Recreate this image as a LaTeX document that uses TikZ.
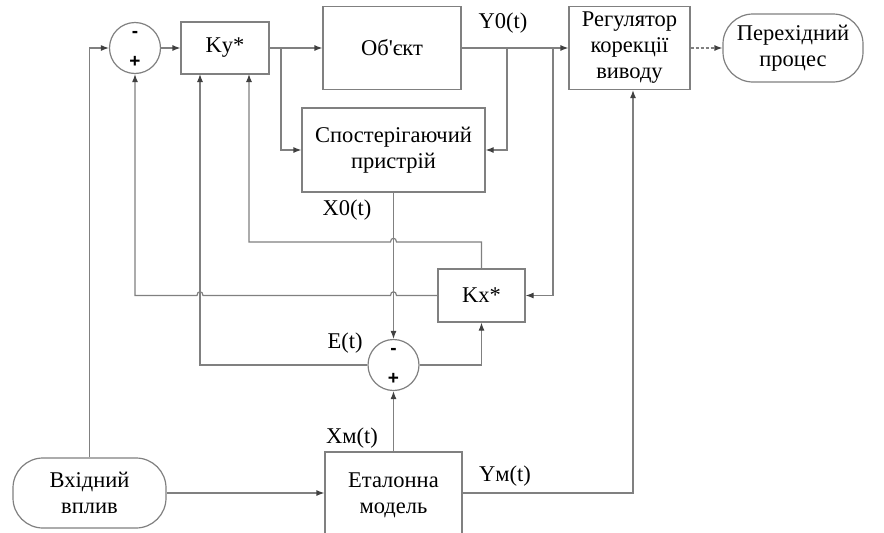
\documentclass[tikz,border=0pt]{standalone}
\usepackage{fontspec}
\setmainfont{Liberation Serif}
\newfontfamily\signfont{Liberation Sans}
\usetikzlibrary{arrows.meta}

\begin{document}
\begin{tikzpicture}[x=1pt,y=-1pt,
		every node/.style={font=\fontsize{22.5}{26}\selectfont},
		block/.style={draw=linegray, line width=1.2pt, fill=white, align=center, inner sep=0pt},
		term/.style={block, rounded corners=30pt},
		summer/.style={circle, draw=linegray, line width=1.2pt, fill=white, minimum size=51pt, inner sep=0pt},
		sign/.style={font=\signfont\bfseries\fontsize{19}{19}\selectfont, inner sep=0pt},
		lbl/.style={inner sep=0pt},
		link/.style={draw=linegray, line width=1.2pt},
		arr/.style={link, -{Latex[length=8pt,width=6pt,color=tipgray]}}]
		% Define colors
		\definecolor{linegray}{RGB}{128, 128, 128}
		\definecolor{tipgray}{RGB}{64, 64, 64}
		
		% Page frame
		\useasboundingbox (0,0) rectangle (884,533);
		\clip (0,0) rectangle (884,533);
		
		% TOP ROW: summer, gain, plant, output regulator
		\node[summer] (sumA) at (135,48) {};
		\node[sign] (sumAminus) at (135,34) {-};
		\node[sign] (sumAplus) at (135,62) {+};
		\node[block, minimum width=88pt, minimum height=52pt] (ky) at (225,48) {Ky*};
		\node[block, minimum width=138pt, minimum height=83pt] (obj) at (392,48) {Об\textquotesingle єкт};
		\node[block, minimum width=121pt, minimum height=83pt] (reg) at (629.5,48) {Регулятор\\корекції\\виводу};
		\node[term, minimum width=140pt, minimum height=68pt] (proc) at (793,48) {Перехідний\\процес};
		\node[lbl] (lblY0) at (503,23) {Y0(t)};
		
		% MIDDLE: observer, Kx* and error summer
		\node[block, minimum width=183pt, minimum height=84pt] (obs) at (393.5,150) {Спостерігаючий\\пристрій};
		\node[lbl] (lblX0) at (347,210) {X0(t)};
		\node[block, minimum width=87pt, minimum height=53pt] (kx) at (481.5,295.5) {Kx*};
		\node[summer] (sumB) at (393.5,365) {};
		\node[sign] (sumBminus) at (393.5,351) {-};
		\node[sign] (sumBplus) at (393.5,379) {+};
		\node[lbl] (lblE) at (345,343) {E(t)};
		
		% BOTTOM ROW: input and reference model
		\node[term, minimum width=153pt, minimum height=70pt] (input) at (89.5,493) {Вхідний\\вплив};
		\node[block, minimum width=137pt, minimum height=86pt] (etalon) at (393.5,495) {Еталонна\\модель};
		\node[lbl] (lblXm) at (352,438) {Xм(t)};
		\node[lbl] (lblYm) at (505,476) {Yм(t)};
		
		% Branch points and input points
		\coordinate (brKy) at (281,48);
		\coordinate (brObs) at (507,48);
		\coordinate (brKx) at (553,48);
		\coordinate (kyA) at (200,74);
		\coordinate (kyB) at (249,74);
		
		% Forward path
		\draw[arr] (input.north) |- (sumA.west);
		\draw[arr] (sumA.east) -- (ky.west);
		\draw[arr] (ky.east) -- (obj.west);
		\draw[arr] (obj.east) -- (reg.west);
		\draw[arr, dash pattern=on 3pt off 2pt] (reg.east) -- (proc.west);
		
		% Observer inputs
		\draw[arr] (brKy) |- (obs.west);
		\draw[arr] (brObs) |- (obs.east);
		\draw[arr] (brKx) |- (kx.east);
		
		% Error summer
		\draw[arr] (obs.south) -- (sumB.north);
		\draw[arr] (etalon.north) -- (sumB.south);
		\draw[arr] (sumB.east) -| (kx.south);
		\draw[arr] (sumB.west) -| (kyA);
		
		% Reference model
		\draw[arr] (input.east) -- (input.east -| etalon.west);
		\draw[arr] (input.east -| etalon.east) -| ([xshift=3.5pt]reg.south);
		
		% Kx* feedback (with hops over crossing lines)
		\draw[arr] (kx.north) |- (396.5,242) .. controls (396.5,237) and (390.5,237) .. (390.5,242) -- (249,242) -- (kyB);
		\draw[arr] (kx.west) -- (396.5,295.5) .. controls (396.5,290.5) and (390.5,290.5) .. (390.5,295.5)
			-- (203,295.5) .. controls (203,290.5) and (197,290.5) .. (197,295.5) -| (sumA.south);
		
	\end{tikzpicture}
\end{document}
